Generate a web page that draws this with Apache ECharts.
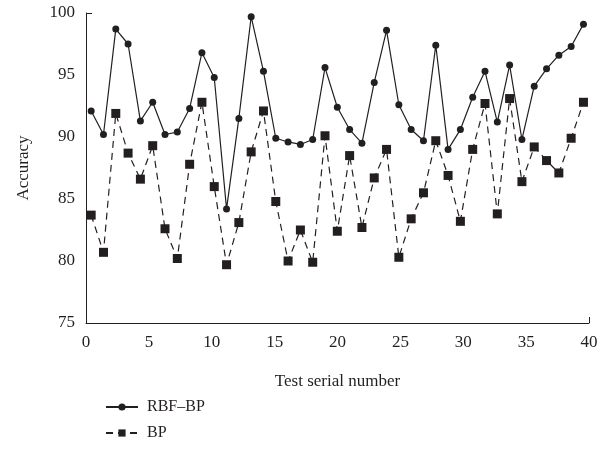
<!DOCTYPE html>
<html>
<head>
<meta charset="utf-8">
<script src="https://cdn.jsdelivr.net/npm/echarts@6/dist/echarts.min.js"></script>
<style>
  html, body { margin: 0; padding: 0; background: #fff; }
  #main { width: 616px; height: 460px; }
</style>
</head>
<body>
<div id="main"></div>
<script>
// test serial numbers 0..40
const testNo = [0, 1, 2, 3, 4, 5, 6, 7, 8, 9, 10, 11, 12, 13, 14, 15, 16, 17, 18, 19, 20,
  21, 22, 23, 24, 25, 26, 27, 28, 29, 30, 31, 32, 33, 34, 35, 36, 37, 38, 39, 40]

const rbfBp = [92.1, 90.2, 98.7, 97.5, 91.3, 92.8, 90.2, 90.4, 92.3, 96.8, 94.8,
  84.2, 91.5, 99.7, 95.3, 89.9, 89.6, 89.4, 89.8, 95.6, 92.4,
  90.6, 89.5, 94.4, 98.6, 92.6, 90.6, 89.7, 97.4, 89.0, 90.6,
  93.2, 95.3, 91.2, 95.8, 89.8, 94.1, 95.5, 96.6, 97.3, 99.1]

const bp = [83.7, 80.7, 91.9, 88.7, 86.6, 89.3, 82.6, 80.2, 87.8, 92.8, 86.0,
  79.7, 83.1, 88.8, 92.1, 84.8, 80.0, 82.5, 79.9, 90.1, 82.4,
  88.5, 82.7, 86.7, 89.0, 80.3, 83.4, 85.5, 89.7, 86.9, 83.2,
  89.0, 92.7, 83.8, 93.1, 86.4, 89.2, 88.1, 87.1, 89.9, 92.8]

const xTicks = [0, 5, 10, 15, 20, 25, 30, 35, 40]
const yTicks = [75, 80, 85, 90, 95, 100]

const font = 'Liberation Serif'
const ink = '#231f20'

const chart = echarts.init(document.getElementById('main'))

const option = {
  animation: false,
  textStyle: { fontFamily: font, color: ink },
  grid: { left: 86, right: 27, top: 13, bottom: 137 },
  legend: {
    orient: 'vertical',
    left: 100,
    top: 394,
    itemWidth: 32,
    itemHeight: 9,
    itemGap: 10,
    textStyle: { fontFamily: font, fontSize: 16, color: ink, padding: [0, 0, 0, 4] },
    data: ['RBF–BP', 'BP']
  },
  xAxis: [
    {
      type: 'value',
      min: 0,
      max: 40,
      interval: 5,
      name: 'Test serial number',
      nameLocation: 'middle',
      nameGap: 50,
      nameTextStyle: { fontFamily: font, fontSize: 17, color: ink },
      axisLine: { lineStyle: { color: ink, width: 1 } },
      axisTick: { show: true, inside: true, length: 6, customValues: [40], lineStyle: { color: ink } },
      axisLabel: { customValues: xTicks, fontFamily: font, fontSize: 17, color: ink, margin: 11 },
      splitLine: { show: false }
    },
    {
      // data axis: points sit slightly inside the 0–40 frame
      type: 'value',
      min: -0.42,
      max: 40.45,
      show: false
    }
  ],
  yAxis: {
    type: 'value',
    min: 75,
    max: 100,
    interval: 5,
    name: 'Accuracy',
    nameLocation: 'middle',
    nameGap: 54,
    nameTextStyle: { fontFamily: font, fontSize: 17, color: ink },
    axisLine: { show: true, lineStyle: { color: ink, width: 1 } },
    axisTick: { show: true, inside: true, length: 6, customValues: [100], lineStyle: { color: ink } },
    axisLabel: { customValues: yTicks, fontFamily: font, fontSize: 17, color: ink, margin: 11 },
    splitLine: { show: false }
  },
  series: [
    {
      name: 'RBF–BP',
      type: 'line',
      xAxisIndex: 1,
      data: testNo.map((x, i) => [x, rbfBp[i]]),
      symbol: 'circle',
      symbolSize: 7,
      itemStyle: { color: ink },
      lineStyle: { color: ink, width: 1.2 }
    },
    {
      name: 'BP',
      type: 'line',
      xAxisIndex: 1,
      data: testNo.map((x, i) => [x, bp[i]]),
      symbol: 'rect',
      symbolSize: 9,
      itemStyle: { color: ink },
      lineStyle: { color: ink, width: 1.2, type: [7, 5] }
    }
  ]
}

chart.setOption(option)
</script>
</body>
</html>
